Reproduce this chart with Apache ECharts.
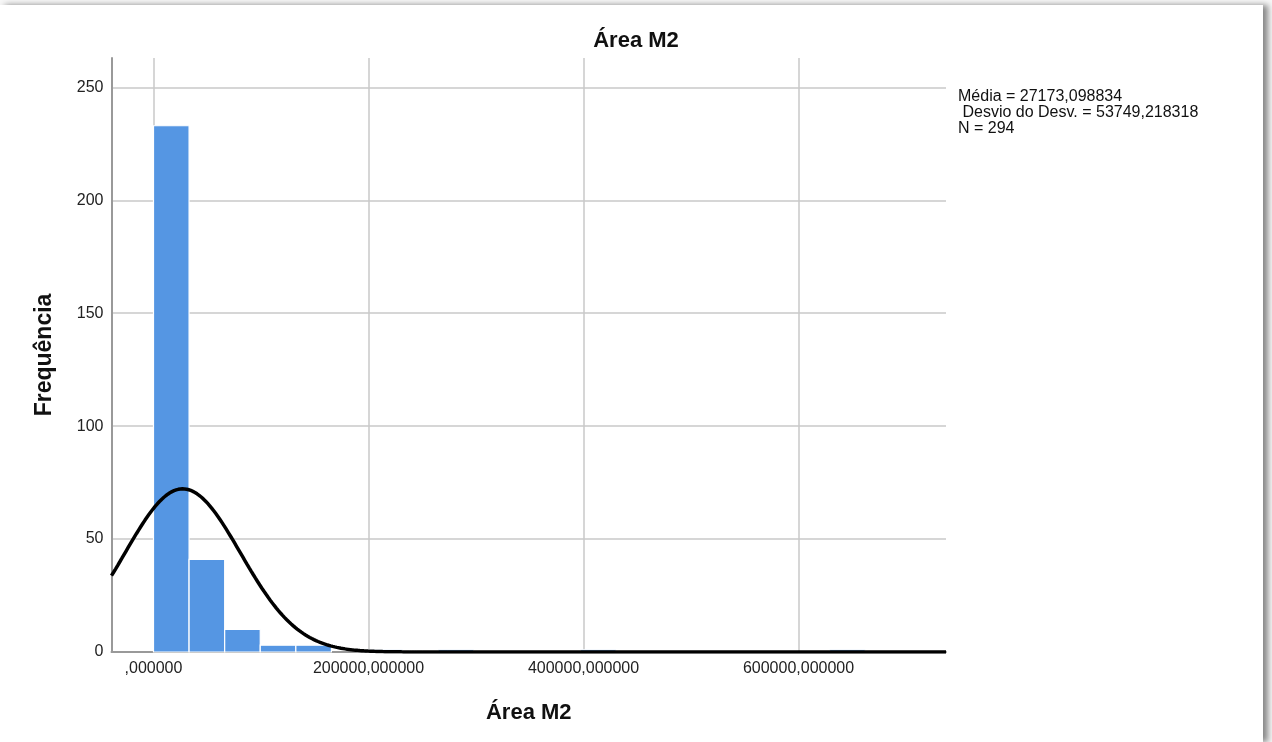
<!DOCTYPE html>
<html>
<head>
<meta charset="utf-8">
<title>Área M2</title>
<script src="https://cdn.jsdelivr.net/npm/echarts@6/dist/echarts.min.js"></script>
<style>
  html, body { margin: 0; padding: 0; background: #f7f7f7; width: 1272px; height: 742px; overflow: hidden; }
  #panel { position: absolute; left: 0; top: 5px; width: 1263px; height: 737px; background: #ffffff;
           box-shadow: 5px 0 6px rgba(0,0,0,0.45); }
  #chart { position: absolute; left: 0; top: 0; width: 1272px; height: 742px; }
</style>
</head>
<body>
<div id="panel"></div>
<div id="chart"></div>
<script>
// Histogram of "Área M2" with fitted normal curve
const binStart = 0;
const binWidth = 33100;
const binCounts = [233, 41, 10, 3, 3, 0, 1, 0, 1, 0, 0, 0, 1, 0, 0, 0, 0, 0, 0, 1];

// Summary statistics shown in the side note
const meanValue = 27173.098834;
const sdValue = 53749.218318;
const nValue = 294;

// Axis ticks and range
const xTicks = [0, 200000, 400000, 600000];
const yTicks = [0, 50, 100, 150, 200, 250];
const xRange = [-39070, 737200];
const yRange = [0, 263];

const fmtNum = (v, d) => v.toFixed(d).replace('.', ',');
const fmtX = v => (v === 0 ? ',000000' : fmtNum(v, 6));

// Histogram bars as [start, end, count]
const bars = binCounts.map((c, i) => [binStart + i * binWidth, binStart + (i + 1) * binWidth, c])
  .filter(b => b[2] > 0);

// Normal density scaled to counts per bin
const curve = [];
const steps = 400;
for (let i = 0; i <= steps; i++) {
  const x = xRange[0] + (xRange[1] - xRange[0]) * i / steps;
  const z = (x - meanValue) / sdValue;
  const y = nValue * binWidth / (sdValue * Math.sqrt(2 * Math.PI)) * Math.exp(-0.5 * z * z);
  curve.push([x, y]);
}

const FONT = '"Liberation Sans", Arial, sans-serif';
const chart = echarts.init(document.getElementById('chart'), null, { renderer: 'canvas' });

chart.setOption({
  backgroundColor: 'transparent',
  animation: false,
  title: {
    text: 'Área M2',
    left: 'center',
    top: 25,
    textStyle: { fontFamily: FONT, fontSize: 22, fontWeight: 'bold', color: '#111' }
  },
  grid: { left: 111.5, right: 326, top: 58, bottom: 90, containLabel: false },
  xAxis: {
    type: 'value',
    min: xRange[0],
    max: xRange[1],
    name: 'Área M2',
    nameLocation: 'middle',
    nameGap: 50,
    nameTextStyle: { fontFamily: FONT, fontSize: 22, fontWeight: 'bold', color: '#111' },
    axisLine: { show: true, onZero: false, lineStyle: { color: '#999', width: 2 } },
    axisTick: { show: false, customValues: xTicks },
    axisLabel: {
      customValues: xTicks,
      formatter: fmtX,
      margin: 9,
      fontFamily: FONT, fontSize: 16, color: '#222'
    },
    splitLine: { show: true, lineStyle: { color: '#c8c8c8', width: 1.5 } }
  },
  yAxis: {
    type: 'value',
    min: yRange[0],
    max: yRange[1],
    name: 'Frequência',
    nameLocation: 'middle',
    nameGap: 55,
    nameTextStyle: { fontFamily: FONT, fontSize: 23, fontWeight: 'bold', color: '#111' },
    axisLine: { show: true, onZero: false, lineStyle: { color: '#999', width: 2 } },
    axisTick: { show: false, customValues: yTicks },
    axisLabel: {
      customValues: yTicks,
      margin: 8,
      fontFamily: FONT, fontSize: 16, color: '#222'
    },
    splitLine: { show: true, lineStyle: { color: '#c8c8c8', width: 1.5 } }
  },
  graphic: [{
    type: 'text',
    left: 958,
    top: 89,
    style: {
      text: 'Média = ' + fmtNum(meanValue, 6) + '\n Desvio do Desv. = ' + fmtNum(sdValue, 6) + '\nN = ' + nValue,
      font: '16px ' + FONT,
      lineHeight: 16,
      fill: '#111'
    }
  }],
  series: [{
    type: 'custom',
    name: 'Frequência',
    data: bars,
    encode: { x: [0, 1], y: 2 },
    z: 2,
    renderItem: function (params, api) {
      const p0 = api.coord([api.value(0), api.value(2)]);
      const p1 = api.coord([api.value(1), 0]);
      return {
        type: 'rect',
        shape: { x: p0[0], y: p0[1], width: p1[0] - p0[0], height: p1[1] - p0[1] },
        style: { fill: '#5596e3', stroke: '#ffffff', lineWidth: 1.2 }
      };
    }
  }, {
    type: 'line',
    name: 'Normal',
    data: curve,
    showSymbol: false,
    smooth: false,
    z: 3,
    lineStyle: { color: '#000', width: 3.5 }
  }]
});
</script>
</body>
</html>
